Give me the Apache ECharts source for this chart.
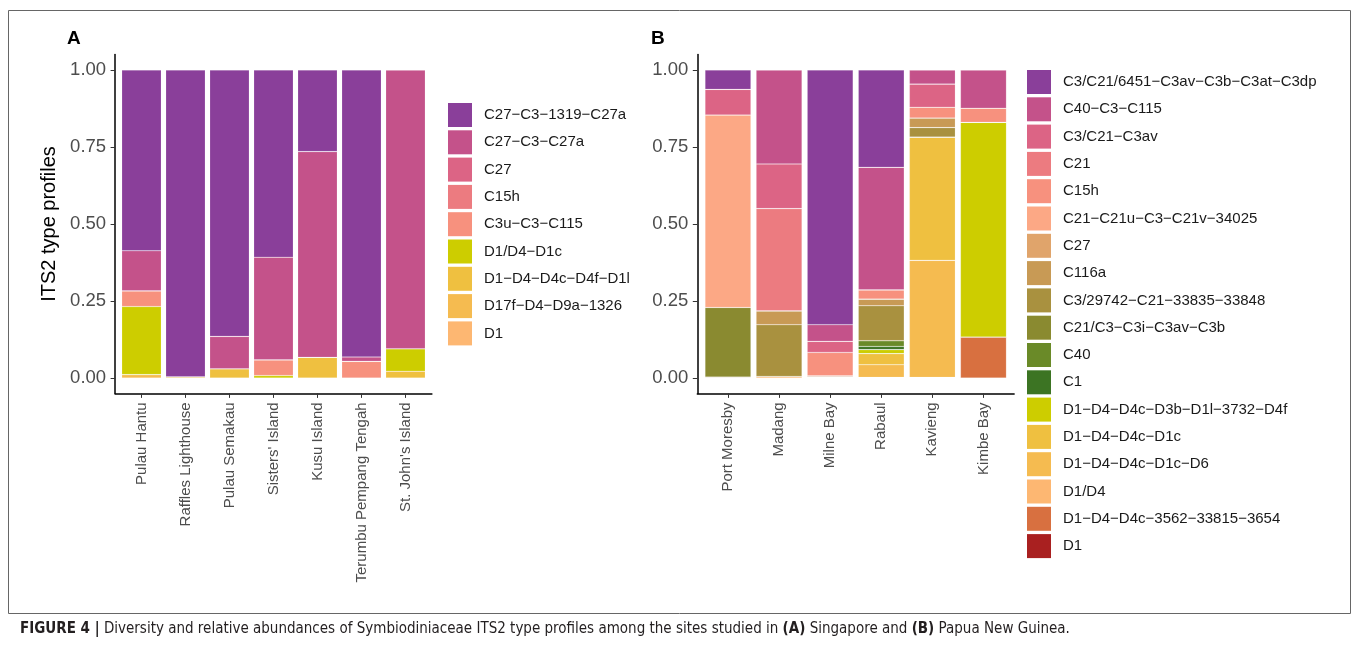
<!DOCTYPE html>
<html><head><meta charset="utf-8">
<script src="https://cdn.jsdelivr.net/npm/echarts@6/dist/echarts.min.js"></script>
<style>html,body{margin:0;padding:0;background:#fff}#c{width:1355px;height:654px}</style>
</head><body><div id="c"></div>
<script>
// ---------------- Panel A (Singapore) ----------------
const sitesA = ["Pulau Hantu","Raffles Lighthouse","Pulau Semakau","Sisters' Island","Kusu Island","Terumbu Pempang Tengah","St. John's Island"];
const profilesA = ["C27−C3−1319−C27a","C27−C3−C27a","C27","C15h","C3u−C3−C115","D1/D4−D1c","D1−D4−D4c−D4f−D1l","D17f−D4−D9a−1326","D1"];
const colorsA = ["#8a3f9a","#c4528a","#dc6485","#ec7b80","#f7917e","#cdcd00","#efc040","#f5bb50","#fdb772"];
const A_C27_C3_1319_C27a = [0.587,0.996,0.865,0.608,0.265,0.932,0];
const A_C27_C3_C27a      = [0.130,0,0.105,0.333,0.668,0.014,0.905];
const A_C27              = [0,0,0,0,0,0,0];
const A_C15h             = [0,0,0,0,0,0,0];
const A_C3u_C3_C115      = [0.051,0,0,0.051,0,0.054,0];
const A_D1D4_D1c         = [0.221,0,0,0.008,0,0,0.073];
const A_D1_D4_D4c_D4f    = [0,0.004,0.030,0,0.067,0,0.022];
const A_D17f             = [0.011,0,0,0,0,0,0];
const A_D1               = [0,0,0,0,0,0,0];
const valuesA = [A_C27_C3_1319_C27a,A_C27_C3_C27a,A_C27,A_C15h,A_C3u_C3_C115,A_D1D4_D1c,A_D1_D4_D4c_D4f,A_D17f,A_D1];

// ---------------- Panel B (Papua New Guinea) ----------------
const sitesB = ["Port Moresby","Madang","Milne Bay","Rabaul","Kavieng","Kimbe Bay"];
const profilesB = ["C3/C21/6451−C3av−C3b−C3at−C3dp","C40−C3−C115","C3/C21−C3av","C21","C15h","C21−C21u−C3−C21v−34025","C27","C116a","C3/29742−C21−33835−33848","C21/C3−C3i−C3av−C3b","C40","C1","D1−D4−D4c−D3b−D1l−3732−D4f","D1−D4−D4c−D1c","D1−D4−D4c−D1c−D6","D1/D4","D1−D4−D4c−3562−33815−3654","D1"];
const colorsB = ["#8a3f9a","#c4528a","#dc6485","#ec7b80","#f7917e","#fca885","#e0a46b","#c89a55","#a9913f","#8a8a30","#6a8a28","#3c7423","#cdcd00","#efc040","#f5bb50","#fdb772","#d87040","#a92020"];
const B_C3_C21_6451   = [0.063,0,0.827,0.316,0,0];
const B_C40_C3_C115   = [0,0.305,0.054,0.398,0.046,0.124];
const B_C3_C21_C3av   = [0.083,0.145,0.036,0,0.075,0];
const B_C21           = [0,0.332,0,0,0,0];
const B_C15h          = [0,0,0.076,0.030,0.035,0.046];
const B_C21_C21u      = [0.625,0,0,0,0,0];
const B_C27           = [0,0,0,0,0,0];
const B_C116a         = [0,0.045,0,0.0215,0.031,0];
const B_C3_29742      = [0,0.168,0,0.1135,0.031,0];
const B_C21_C3_C3i    = [0.226,0,0,0,0,0];
const B_C40           = [0,0,0,0.0185,0,0];
const B_C1            = [0,0,0,0.0105,0,0];
const B_D3b           = [0,0,0,0.013,0,0.697];
const B_D1c           = [0,0,0,0.036,0.400,0];
const B_D1c_D6        = [0,0,0,0.041,0.380,0];
const B_D1D4          = [0,0.005,0,0,0,0];
const B_D3562         = [0.003,0,0.005,0,0,0.133];
const B_D1            = [0,0,0.002,0.002,0.002,0];
const valuesB = [B_C3_C21_6451,B_C40_C3_C115,B_C3_C21_C3av,B_C21,B_C15h,B_C21_C21u,B_C27,B_C116a,B_C3_29742,B_C21_C3_C3i,B_C40,B_C1,B_D3b,B_D1c,B_D1c_D6,B_D1D4,B_D3562,B_D1];

const yTicks = [0,0.25,0.5,0.75,1];

const FONT = "'Liberation Sans', Arial, Helvetica, sans-serif";
const chart = echarts.init(document.getElementById('c'), null, {renderer:'canvas'});

const gridW = 316.8, gridH = 338.8, gridTop = 54.6;
const panelLeft = [115.1, 697.3];
const nSites = [sitesA.length, sitesB.length];
// axis grids (ggplot-like 0.6 expansion) + bar grids (one band per site)
const grids = [0,1].map(i=>({left:panelLeft[i], top:gridTop, width:gridW, height:gridH}))
  .concat([0,1].map(i=>{
    const band = gridW/(nSites[i]+0.2);
    return {left:panelLeft[i]+0.1*band, top:gridTop, width:band*nSites[i], height:gridH};
  }));

function xAxisShown(idx, sites){
  const ticks = sites.map((s,i)=>i+1);
  return {
    gridIndex:idx, type:'value', min:0.4, max:sites.length+0.6,
    axisLine:{show:true, onZero:false, lineStyle:{color:'#000', width:1.5}},
    axisTick:{show:true, length:4.5, customValues:ticks, lineStyle:{color:'#333', width:1}},
    axisLabel:{show:true, customValues:ticks, rotate:90, margin:9, fontSize:15, fontFamily:FONT, color:'#4d4d4d',
      padding:[10,0,0,0],
      formatter:(v)=>sites[Math.round(v)-1] || ''},
    splitLine:{show:false}
  };
}
function yAxisShown(idx, withName){
  const o = {
    gridIndex:idx, type:'value', min:-0.05, max:1.05,
    axisLine:{show:true, onZero:false, lineStyle:{color:'#000', width:1.5}},
    axisTick:{show:true, length:4.5, customValues:yTicks, lineStyle:{color:'#333', width:1}},
    axisLabel:{show:true, customValues:yTicks, margin:9, fontSize:18.5, fontFamily:FONT, color:'#4d4d4d',
      formatter:(v)=>v.toFixed(2)},
    splitLine:{show:false}
  };
  if(withName){
    o.name = 'ITS2 type profiles';
    o.nameLocation = 'middle';
    o.nameGap = 56;
    o.nameTextStyle = {fontSize:20, fontFamily:FONT, color:'#000'};
  }
  return o;
}
function xAxisBars(idx, sites){
  return {gridIndex:idx, type:'category', data:sites, boundaryGap:true, show:false};
}
function yAxisBars(idx){
  return {gridIndex:idx, type:'value', min:-0.05, max:1.05, show:false};
}

const series = [];
function addSeries(panel, idx, sites, profiles, colors, values){
  for(let k = profiles.length-1; k >= 0; k--){
    series.push({
      type:'bar', name: panel + '|' + profiles[k], stack: panel,
      xAxisIndex:idx, yAxisIndex:idx, barWidth:'90%',
      itemStyle:{color:colors[k], borderColor:'rgba(255,255,255,0.28)', borderWidth:0.6},
      emphasis:{disabled:true},
      data: values[k].slice()
    });
  }
}
addSeries('A', 2, sitesA, profilesA, colorsA, valuesA);
addSeries('B', 3, sitesB, profilesB, colorsB, valuesB);

function legend(panel, profiles, left, top){
  return {
    orient:'vertical', left:left, top:top, padding:0, itemWidth:24, itemHeight:24, itemGap:3.3,
    icon:'rect', selectedMode:false,
    itemStyle:{borderWidth:0},
    data: profiles.map(p=>panel+'|'+p),
    formatter:(n)=>n.split('|')[1],
    textStyle:{fontSize:15, fontFamily:FONT, color:'#1a1a1a', padding:[0,0,0,7]}
  };
}

const CAPFONT = "'Liberation Sans Narrow','Arial Narrow','DejaVu Sans Condensed',sans-serif";
chart.setOption({
  animation:false,
  backgroundColor:'#fff',
  grid: grids,
  xAxis:[xAxisShown(0,sitesA), xAxisShown(1,sitesB), xAxisBars(2,sitesA), xAxisBars(3,sitesB)],
  yAxis:[yAxisShown(0,true), yAxisShown(1,false), yAxisBars(2), yAxisBars(3)],
  legend:[legend('A',profilesA,448,103), legend('B',profilesB,1027,70)],
  series: series,
  graphic:[
    {type:'rect', left:6, top:8, silent:true, shape:{width:1342, height:603}, style:{fill:'none', stroke:'#666', lineWidth:1}},
    {type:'text', left:67, top:29, style:{text:'A', fontSize:19, fontWeight:'bold', fontFamily:FONT, fill:'#000'}},
    {type:'text', left:651, top:29, style:{text:'B', fontSize:19, fontWeight:'bold', fontFamily:FONT, fill:'#000'}},
    {type:'text', left:20, top:622, style:{
      text:'{b|FIGURE 4 |} Diversity and relative abundances of Symbiodiniaceae ITS2 type profiles among the sites studied in {b|(A)} Singapore and {b|(B)} Papua New Guinea.',
      fontSize:15, fontFamily:CAPFONT, fill:'#231f20',
      rich:{b:{fontWeight:'bold', fontSize:15, fontFamily:CAPFONT, fill:'#231f20'}}
    }}
  ]
});
</script></body></html>
